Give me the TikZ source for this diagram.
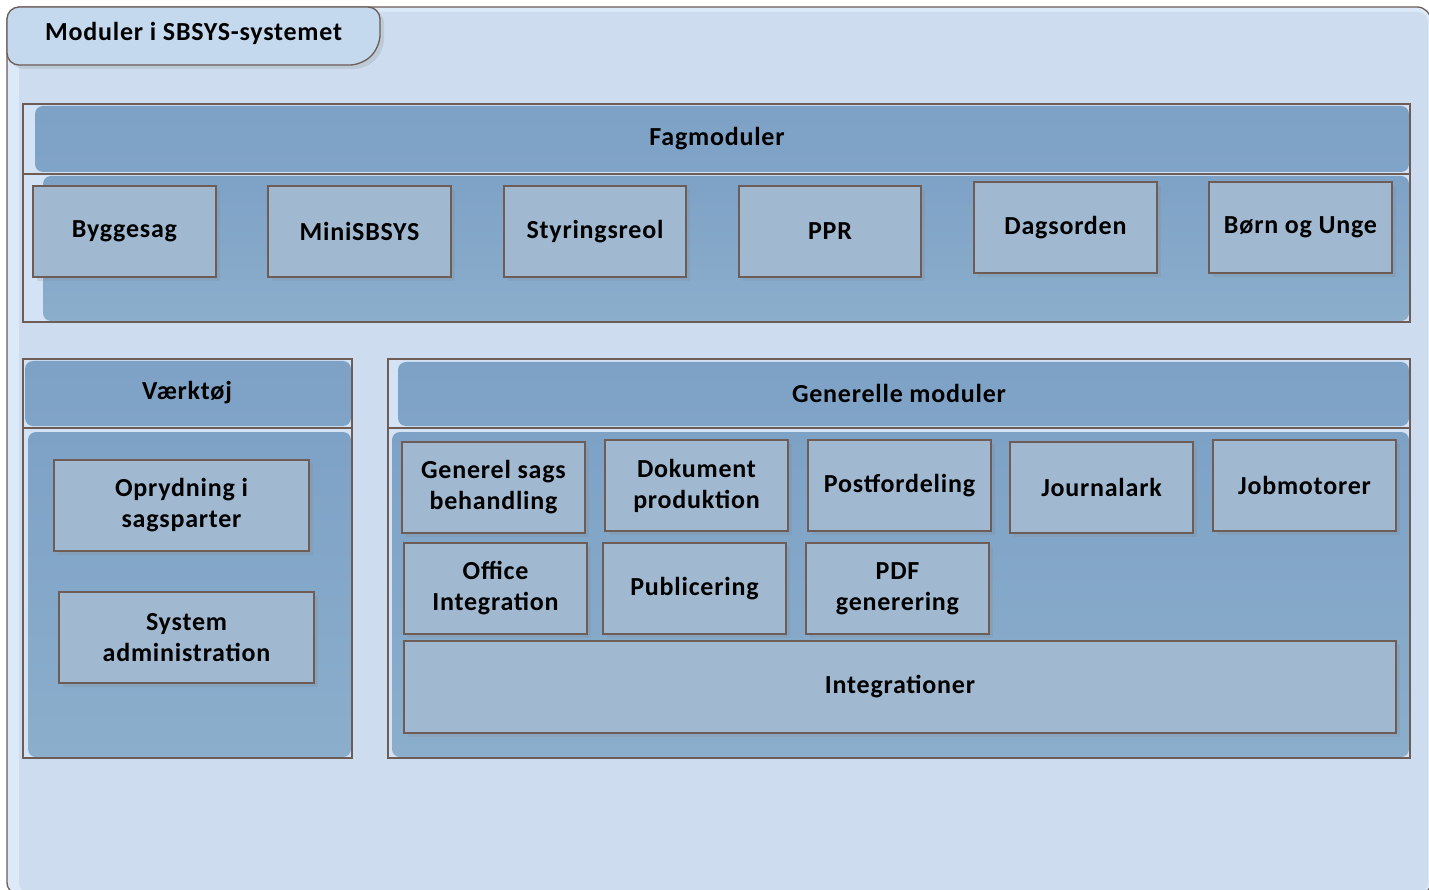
\documentclass[tikz,border=0pt]{standalone}
\usepackage{fontspec}
\setmainfont{Carlito}
\newfontfamily\lblfont{Carlito}[LetterSpace=3]
\usetikzlibrary{shadows}
\definecolor{frameBg}{HTML}{CDDDEF}
\definecolor{frameEdge}{HTML}{DCE9F9}
\definecolor{brd}{HTML}{6E5C57}
\definecolor{contA}{HTML}{7EA2C6}
\definecolor{contB}{HTML}{8BAECC}
\definecolor{boxf}{HTML}{A1B9D0}
\definecolor{tabf}{HTML}{C4D8EE}
\definecolor{strip}{HTML}{D3E2F4}
\begin{document}
\begin{tikzpicture}[x=1pt,y=-1pt,
  lbl/.style={font=\lblfont\fontsize{26}{31}\selectfont\bfseries, align=center, text=black},
  box/.style={lbl, draw=brd, line width=1.3pt, fill=boxf, inner sep=0pt,
    drop shadow={shadow xshift=4pt, shadow yshift=-4pt, opacity=0.18}},
  contbox/.style={draw=brd, line width=1.3pt, inner sep=0pt},
  divider/.style={draw=brd, line width=1.3pt},
  hdrfill/.style={top color=contA, bottom color=contA!85!contB, rounded corners=8pt},
  bodyfill/.style={top color=contA, bottom color=contB, rounded corners=8pt}
]
\useasboundingbox (0,0) rectangle (1429,890);
\fill[white] (0,0) rectangle (1429,890);
% outer frame
\draw[brd, line width=1.3pt, fill=frameEdge, rounded corners=14pt] (7,7) rectangle (1431,896);
\fill[frameBg, rounded corners=10pt] (19,12) rectangle (1428,893);
% title tab
\draw[brd, line width=1.3pt, fill=tabf, rounded corners=12pt,
  drop shadow={shadow xshift=4pt, shadow yshift=-4pt, opacity=0.2}]
  (7,65) -- (7,7) -- (380,7) -- (380,47) -- (362,65) -- cycle;
\node[lbl, anchor=west, inner sep=0pt] (title) at (45,33) {Moduler i SBSYS-systemet};

% ---------- Fagmoduler ----------
\fill[strip] (23,104) rectangle (1410,322);
\shade[hdrfill] (35,106) rectangle (1409,172);
\shade[bodyfill] (43,176) rectangle (1409,321);
\node[contbox, minimum width=1387pt, minimum height=218pt] (fag) at (716.5,213) {};
\draw[divider] (23,174) -- (1410,174);
\node[lbl] (fagT) at (717,139) {Fagmoduler};

\node[box, minimum width=183pt, minimum height=91pt] (byg) at (124.5,231.5) {Byggesag};
\node[box, minimum width=183pt, minimum height=91pt] (mini) at (359.5,231.5) {MiniSBSYS};
\node[box, minimum width=182pt, minimum height=91pt] (styr) at (595,231.5) {Styringsreol};
\node[box, minimum width=182pt, minimum height=91pt] (ppr) at (830,231.5) {PPR};
\node[box, minimum width=183pt, minimum height=91pt] (dag) at (1065.5,227.5) {Dagsorden};
\node[box, minimum width=183pt, minimum height=91pt] (born) at (1300.5,227.5) {Børn og Unge};

% ---------- Værktøj ----------
\fill[strip] (23,359) rectangle (352,758);
\shade[hdrfill] (25,361) rectangle (351,426);
\shade[bodyfill] (28,432) rectangle (351,757);
\node[contbox, minimum width=329pt, minimum height=399pt] (vaerk) at (187.5,558.5) {};
\draw[divider] (23,428) -- (352,428);
\node[lbl] (vaerkT) at (187,393) {Værktøj};

\node[box, minimum width=255pt, minimum height=91pt] (opr) at (181.5,505.5) {Oprydning i\\sagsparter};
\node[box, minimum width=255pt, minimum height=91pt] (sys) at (186.5,637.5) {System\\administration};

% ---------- Generelle moduler ----------
\fill[strip] (388,359) rectangle (1410,758);
\shade[hdrfill] (398,362) rectangle (1409,426);
\shade[bodyfill] (392,432) rectangle (1409,757);
\node[contbox, minimum width=1022pt, minimum height=399pt] (gen) at (899,558.5) {};
\draw[divider] (388,428) -- (1410,428);
\node[lbl] (genT) at (899,393) {Generelle moduler};

\node[box, minimum width=183pt, minimum height=91pt] (gsb) at (493.5,487.5) {Generel sags\\behandling};
\node[box, minimum width=183pt, minimum height=91pt] (dok) at (696.5,485.5) {Dokument\\produktion};
\node[box, minimum width=183pt, minimum height=91pt] (post) at (899.5,485.5) {Postfordeling};
\node[box, minimum width=183pt, minimum height=91pt] (jour) at (1101.5,487.5) {Journalark};
\node[box, minimum width=183pt, minimum height=91pt] (job) at (1304.5,485.5) {Jobmotorer};
\node[box, minimum width=183pt, minimum height=91pt] (off) at (495.5,588.5) {Office\\Integration};
\node[box, minimum width=183pt, minimum height=91pt] (pub) at (694.5,588.5) {Publicering};
\node[box, minimum width=183pt, minimum height=91pt] (pdf) at (897.5,588.5) {PDF\\generering};
\node[box, minimum width=992pt, minimum height=92pt] (integ) at (900,687) {Integrationer};
\end{tikzpicture}
\end{document}
